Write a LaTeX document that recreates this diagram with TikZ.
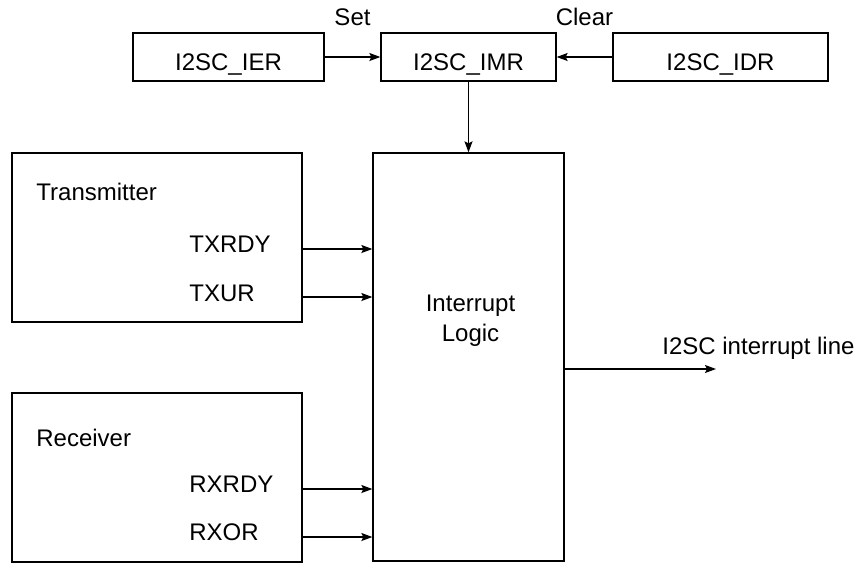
\documentclass[tikz,border=0pt]{standalone}
\usepackage{fontspec}
\setmainfont{Liberation Sans}
\usetikzlibrary{arrows.meta}

\begin{document}
\begin{tikzpicture}[
  x=0.5pt, y=-0.5pt,
  font=\fontsize{12}{15}\selectfont,
  reg/.style={draw, line width=.65pt, minimum height=24pt, text height=13.7pt, text depth=0pt, inner sep=0pt},
  block/.style={draw, line width=.65pt, inner sep=0pt},
  lbl/.style={anchor=base west, inner sep=0pt},
  sig/.style={-{Stealth[length=5.5pt, width=4pt, inset=1pt]}, line width=.65pt}
]
\useasboundingbox (0,0) rectangle (856,563);

% registers
\node[reg, minimum width=95.5pt] (ier) at (228.5,57) {I2SC\_IER};
\node[reg, minimum width=87.5pt] (imr) at (468.5,57) {I2SC\_IMR};
\node[reg, minimum width=107.5pt] (idr) at (720.5,57) {I2SC\_IDR};

% blocks
\node[block, minimum width=95.5pt, minimum height=204pt] (logic) at (468.5,357) {};
\node[block, minimum width=145pt, minimum height=84.5pt] (tx) at (157,237.5) {};
\node[block, minimum width=145pt, minimum height=84.5pt] (rx) at (157,477.5) {};

% labels
\node[lbl] (txname) at (36,200.5) {Transmitter};
\node[lbl] (txrdy) at (189,252.5) {TXRDY};
\node[lbl] (txur) at (189,301.5) {TXUR};
\node[lbl] (rxname) at (36,446.5) {Receiver};
\node[lbl] (rxrdy) at (189,492.5) {RXRDY};
\node[lbl] (rxor) at (189,540.5) {RXOR};
\node[align=center, inner sep=0pt] (logicname) at (470.5,320.6) {Interrupt\\Logic};
\node[lbl] (irqname) at (662,354.5) {I2SC interrupt line};
\coordinate (irq) at (716,369);

% connections
\draw[sig] (ier) -- (imr) node[midway, yshift=20pt] {Set};
\draw[sig] (idr) -- (imr) node[midway, yshift=20pt] {Clear};
\draw[sig] (imr) -- (logic);
\foreach \src/\y in {tx/249, tx/297, rx/489, rx/537}
  \draw[sig] (\src.east |- 0,\y) -- (logic.west |- 0,\y);
\draw[sig] (logic.east |- irq) -- (irq);
\end{tikzpicture}
\end{document}
